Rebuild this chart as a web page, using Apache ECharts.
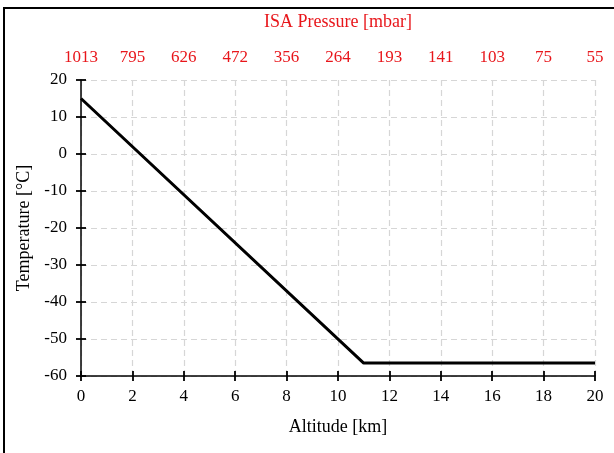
<!DOCTYPE html>
<html>
<head>
<meta charset="utf-8">
<script src="https://cdn.jsdelivr.net/npm/echarts@6/dist/echarts.min.js"></script>
<style>
  html, body { margin: 0; padding: 0; background: #fff; }
  #frame { position: absolute; left: 3px; top: 7px; width: 620px; height: 460px;
           border-left: 2px solid #000; border-top: 2px solid #000; }
  #chart { position: absolute; left: 0; top: 0; width: 614px; height: 453px; }
</style>
</head>
<body>
<div id="frame"></div>
<div id="chart"></div>
<script>
// altitude [km] vs ISA temperature [°C]
const altitude = [0, 11, 20];
const temperature = [15, -56.5, -56.5];
// pressure labels shown every 2 km on the top axis
const pressureLabels = ['1013', '795', '626', '472', '356', '264', '193', '141', '103', '75', '55'];

const font = 'Liberation Serif';
const grid = { left: 81, right: 19, top: 80, bottom: 77 };

const myChart = echarts.init(document.getElementById('chart'));

const tickStyle = { color: '#000', width: 1.8 };
const dashed = { show: true, lineStyle: { color: '#d6d6d6', type: [6, 4], width: 1.2 } };

const option = {
  animation: false,
  grid: grid,
  xAxis: [
    {
      type: 'value', min: 0, max: 20, interval: 2, position: 'bottom',
      name: 'Altitude [km]', nameLocation: 'middle', nameGap: 42,
      nameTextStyle: { fontFamily: font, fontSize: 18, color: '#000' },
      axisLine: { show: true, onZero: false, lineStyle: { color: '#000', width: 1.5 } },
      axisTick: { show: true, length: 5, lineStyle: tickStyle },
      axisLabel: { fontFamily: font, fontSize: 17, color: '#000', margin: 12 },
      splitLine: dashed
    },
    {
      // inner half of the crossing ticks
      type: 'value', min: 0, max: 20, interval: 2, position: 'bottom',
      axisLine: { show: false, onZero: false },
      axisTick: { show: true, inside: true, length: 5, lineStyle: tickStyle },
      axisLabel: { show: false },
      splitLine: { show: false }
    },
    {
      type: 'value', min: 0, max: 20, interval: 2, position: 'top',
      name: 'ISA Pressure [mbar]', nameLocation: 'middle', nameGap: 49,
      nameTextStyle: { fontFamily: font, fontSize: 18, color: '#e8161b' },
      axisLine: { show: false },
      axisTick: { show: false },
      axisLabel: {
        fontFamily: font, fontSize: 17, color: '#e8161b', margin: 14,
        formatter: (v) => pressureLabels[Math.round(v / 2)]
      },
      splitLine: { show: false }
    }
  ],
  yAxis: [
    {
      type: 'value', min: -60, max: 20, interval: 10,
      name: 'Temperature [°C]', nameLocation: 'middle', nameGap: 42,
      nameTextStyle: { fontFamily: font, fontSize: 18, color: '#000' },
      axisLine: { show: true, onZero: false, lineStyle: { color: '#000', width: 1.5 } },
      axisTick: { show: true, length: 5, lineStyle: tickStyle },
      axisLabel: { fontFamily: font, fontSize: 17, color: '#000', margin: 14 },
      splitLine: dashed
    },
    {
      type: 'value', min: -60, max: 20, interval: 10, position: 'left',
      axisLine: { show: false, onZero: false },
      axisTick: { show: true, inside: true, length: 5, lineStyle: tickStyle },
      axisLabel: { show: false },
      splitLine: { show: false }
    }
  ],
  series: [
    {
      type: 'line',
      xAxisIndex: 0,
      yAxisIndex: 0,
      symbol: 'none',
      lineStyle: { color: '#000', width: 3 },
      data: altitude.map((a, i) => [a, temperature[i]]),
      z: 5
    }
  ]
};

myChart.setOption(option);
</script>
</body>
</html>
